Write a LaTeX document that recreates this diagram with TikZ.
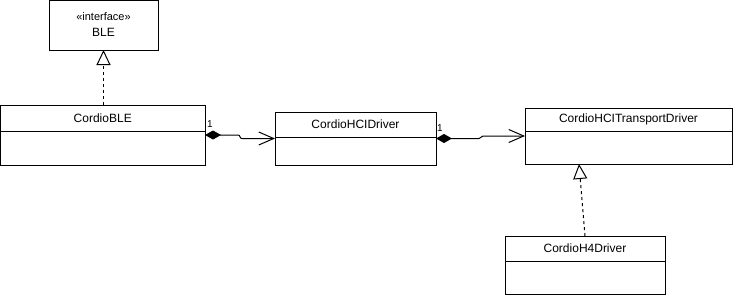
\documentclass[tikz,border=0pt]{standalone}
\usepackage{fontspec}
\setmainfont{Liberation Sans}
\usetikzlibrary{arrows.meta}
\begin{document}
\begin{tikzpicture}[x=1pt,y=-1pt, line width=1pt,
  classbox/.style={draw, anchor=north west, inner sep=0pt, outer sep=0pt},
  lbl/.style={font=\fontsize{12}{14}\selectfont, inner sep=0pt},
  small/.style={font=\fontsize{11}{13}\selectfont, inner sep=0pt},
  mult/.style={font=\fontsize{10}{12}\selectfont, inner sep=0pt},
  realize/.style={dash pattern=on 3pt off 3pt, -{Triangle[open,length=15pt,width=14pt,fill=white]}},
  comp/.style={{Diamond[length=16pt,width=9pt]}-{Straight Barb[length=15pt,width=13pt]}}]
\useasboundingbox (0,0) rectangle (736,297);

% BLE interface
\node[classbox, minimum width=109pt, minimum height=49.5pt] (ble) at (49,0.5) {};
\node[small] (bleSt) at (103.5,17) {«interface»};
\node[lbl] (bleName) at (103.5,32) {BLE};

% CordioBLE
\node[classbox, minimum width=204.5pt, minimum height=60pt] (cble) at (0.5,105) {};
\node[lbl] (cbleName) at (102.75,118) {CordioBLE};
\draw (0.5,131) -- (205,131);

% CordioHCIDriver
\node[classbox, minimum width=161pt, minimum height=53pt] (hcid) at (275,112) {};
\node[lbl] (hcidName) at (355.5,124.5) {CordioHCIDriver};
\draw (275,137) -- (436,137);

% CordioHCITransportDriver
\node[classbox, minimum width=207pt, minimum height=56pt] (trans) at (525,108) {};
\node[lbl] (transName) at (628.5,119) {CordioHCITransportDriver};
\draw (525,131) -- (732,131);

% CordioH4Driver
\node[classbox, minimum width=160pt, minimum height=58pt] (h4) at (505,236) {};
\node[lbl] (h4Name) at (585,248) {CordioH4Driver};
\draw (505,261) -- (665,261);

% realizations
\draw[realize] (cble.north -| ble.south) -- (ble.south);
\coordinate (transApex) at (579,164);
\coordinate (h4Top) at (585,236);
\draw[realize] (h4Top) -- (transApex);

% compositions
\draw[comp] (cble.east) -- (238,135) .. controls (241,135) and (239,138.5) .. (242,138.5) -- (hcid.west);
\draw[comp] (hcid.east) -- (479,138.5) .. controls (482,138.5) and (480,136) .. (483,136) -- (trans.west);
\node[mult] (m1) at (210,124) {1};
\node[mult] (m2) at (440,128) {1};
\end{tikzpicture}
\end{document}
